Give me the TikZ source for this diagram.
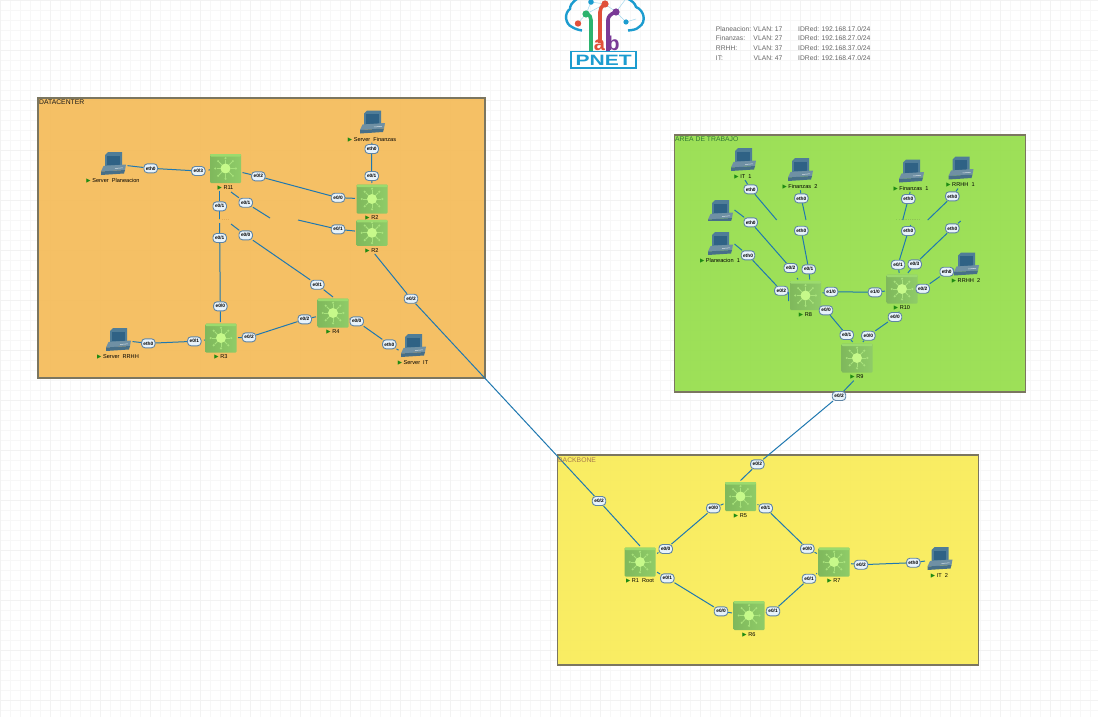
\documentclass[tikz,border=0pt]{standalone}
\usepackage{fontspec}
\setmainfont{Liberation Sans}
\newfontfamily\symfont{DejaVu Sans}
\usepackage{xcolor}
\usetikzlibrary{positioning,backgrounds}
\definecolor{linkblue}{HTML}{1F78B0}
\definecolor{pillfill}{HTML}{E8F3FB}
\definecolor{pillline}{HTML}{5F84A4}
\definecolor{flaggreen}{HTML}{1E8A12}
\definecolor{logoblue}{HTML}{1C9CCF}
\definecolor{logogreen}{HTML}{2CB36E}
\definecolor{logored}{HTML}{E0503A}
\definecolor{logoviolet}{HTML}{7A3A96}
\definecolor{zoneline}{HTML}{7B7660}
\definecolor{routerleft}{HTML}{7FB85C}
\definecolor{routerright}{HTML}{8FCC68}
\definecolor{routertop}{HTML}{9BDB6E}
\definecolor{routersun}{HTML}{C6F98A}
\definecolor{routerray}{HTML}{A8E27C}
\definecolor{pcframe}{HTML}{4F7D98}
\definecolor{pcscreen}{HTML}{2F6285}
\definecolor{pcbase}{HTML}{6F90A4}
\definecolor{pcfoot}{HTML}{476F88}
\newcommand{\flagmark}{{\color{flaggreen}\symfont ▶}}
\newcommand{\hosticon}[1]{%
  \begin{scope}[shift={(#1.north west)}, shift={(1.5,1.5)}]
    \fill[pcframe] (8,0) -- (22,0) -- (22,14) -- (5,15) -- (5,3) -- cycle;
    \fill[pcscreen] (7,3.5) rectangle (19.5,13);
    \fill[pcbase] (3.5,14) -- (26,12.5) -- (25,18) -- (1,19.5) -- cycle;
    \fill[pcfoot] (1,19.5) -- (25,18) -- (24,21.5) -- (1,23) -- cycle;
    \draw[white!70!pcbase, line width=.5pt] (15,16.5) -- (23,15.8);
  \end{scope}}
\tikzset{
  zone/.style={rectangle, draw=zoneline, line width=1.5pt, fill opacity=.93, anchor=north west, inner sep=0, outer sep=0},
  zonetitle/.style={anchor=west, inner sep=0, font=\fontsize{6.8}{7}\selectfont},
  router/.style={rectangle, rounded corners=1pt, minimum width=31pt, minimum height=29pt, inner sep=0, outer sep=1.5pt,
    left color=routerleft, right color=routerright,
    path picture={
      \fill[routertop] (path picture bounding box.north west) rectangle ([yshift=-2.5pt]path picture bounding box.north east);
      \begin{scope}[shift={(path picture bounding box.center)}]
        \foreach \a in {0,45,...,315}{
          \draw[routerray, line width=1pt] (\a:5pt) -- (\a:9pt);
          \fill[routerray] (\a:10.3pt) circle (1.2pt);
        }
        \fill[routersun] (0,0) circle (5pt);
      \end{scope}
    }},
  pc/.style={rectangle, minimum width=26pt, minimum height=24pt, inner sep=0, outer sep=1.5pt},
  tag/.style={inner sep=0, outer sep=1pt, font=\fontsize{5.6}{6}\selectfont},
  port/.style={rectangle, rounded corners=3.5pt, draw=pillline, line width=.9pt, fill=pillfill, minimum width=13.5pt, minimum height=9pt, inner sep=0, font=\fontsize{4.8}{5}\bfseries\selectfont},
  link/.style={draw=linkblue, line width=1pt},
  sliver/.style={inner sep=0, font=\fontsize{4}{4}\selectfont}
}
\begin{document}
\begin{tikzpicture}[x=1pt, y=-1pt, node distance=0pt]
\useasboundingbox (0,0) rectangle (1098,717);

% grid and zones
\begin{scope}[on background layer]
\fill[white] (0,0) rectangle (1098,717);
\draw[black!3, line width=.6pt, step=10pt] (0,0) grid (1098,717);
\draw[black!5, line width=.8pt, step=50pt] (0,0) grid (1098,717);
\node[zone, fill={rgb,255:red,245;green,188;blue,90}, minimum width=447pt, minimum height=280pt] (datacenter) at (38,98) {};
\node[zone, fill={rgb,255:red,150;green,222;blue,76}, minimum width=351pt, minimum height=257pt] (trabajo) at (674.5,135) {};
\node[zone, fill={rgb,255:red,249;green,236;blue,88}, minimum width=421pt, minimum height=210pt] (backbone) at (557.5,455) {};
\end{scope}

\node[zonetitle, text=black!90] (titledc) at (39,102.5) {DATACENTER};
\node[zonetitle, text=green!35!black!80] (titleat) at (675,139.5) {AREA DE TRABAJO};
\node[zonetitle, text=orange!50!black!70] (titlebb) at (558,460.5) {BACKBONE};

% logo
\draw[logoblue, line width=2.4pt] (578.3,-2) .. controls (571,3) and (570,6) .. (570,9) .. controls (564,13) and (565,24) .. (572,27) .. controls (575,29) and (579,30) .. (582,30.5);
\draw[logoblue, line width=2.4pt] (626.7,-2) .. controls (632,1) and (635,3) .. (636,7) .. controls (644,10) and (647,22) .. (639,27) .. controls (636,30) and (632,30) .. (628,30.5);
\draw[logoblue!40, line width=.5pt] (578,23) -- (586,14) -- (591,2) -- (605,4) -- (616,12) -- (626,22) -- (636,19);
\draw[logoblue!40, line width=.5pt] (586,14) -- (605,4) (616,12) -- (625,0);
\draw[logogreen, line width=3.6pt] (586,14) .. controls (590,15) and (591,17) .. (591,20) -- (591,51);
\draw[logored, line width=3.6pt] (605,4) .. controls (601,7) and (600,9) .. (600,12) -- (600,43);
\draw[logoviolet, line width=3.6pt] (616,12) .. controls (610,14) and (608,17) .. (608,20) -- (608,51);
\fill[logogreen] (586,14) circle (3.6pt);
\fill[logored] (605,4) circle (3.6pt);
\fill[logoviolet] (616,12) circle (3.6pt);
\fill[logored] (578,23.5) circle (3.2pt);
\fill[logoblue] (591,2) circle (2.8pt);
\fill[logoblue] (626,22) circle (2.6pt);
\node[rectangle, draw=logoblue, line width=1.5pt, fill=white, minimum width=65pt, minimum height=16.5pt, inner sep=0, text=logoblue, font=\fontsize{15}{15}\bfseries\selectfont] (logopnet) at (603.7,60) {\scalebox{1.4}[1]{PNET}};
\node[anchor=base, inner sep=0, text=logored, font=\fontsize{20}{20}\bfseries\selectfont] (logoa) at (599.5,50.6) {a};
\node[anchor=base, inner sep=0, text=logoviolet, font=\fontsize{20}{20}\bfseries\selectfont] (logob) at (613.6,50.6) {b};

% vlan table
\node[anchor=north west, inner sep=0, text=black!60, font=\fontsize{6.75}{9.8}\selectfont] (vlans) at (715.7,24) {%
\begin{tabular}{@{}p{37.6pt}@{}p{44.7pt}@{}l@{}}
Planeacion: & VLAN: 17 & IDRed: 192.168.17.0/24\\
Finanzas: & VLAN: 27 & IDRed: 192.168.27.0/24\\
RRHH: & VLAN: 37 & IDRed: 192.168.37.0/24\\
IT: & VLAN: 47 & IDRed: 192.168.47.0/24
\end{tabular}};

% routers
\node[router] (r11) at (225.5,168.5) {};
\node[tag, below=of r11] (r11t) {\flagmark\ R11};
\node[router] (r2a) at (372,199) {};
\node[tag, below=of r2a] (r2at) {\flagmark\ R2};
\node[router, minimum height=26pt] (r2b) at (372,232.8) {};
\node[tag, below=of r2b] (r2bt) {\flagmark\ R2};
\node[router] (r3) at (221,338) {};
\node[tag, below=of r3] (r3t) {\flagmark\ R3};
\node[router] (r4) at (333,313) {};
\node[tag, below=of r4] (r4t) {\flagmark\ R4};
\node[router] (r8) at (805.5,295.5) {};
\node[tag, below=of r8] (r8t) {\flagmark\ R8};
\node[router] (r10) at (902,289) {};
\node[tag, below=of r10] (r10t) {\flagmark\ R10};
\node[router] (r9) at (857,358) {};
\node[tag, below=of r9] (r9t) {\flagmark\ R9};
\node[router] (r5) at (740.5,496.5) {};
\node[tag, below=of r5] (r5t) {\flagmark\ R5};
\node[router] (r1) at (640,562) {};
\node[tag, below=of r1] (r1t) {\flagmark\ R1\ \ Root};
\node[router] (r6) at (749,615.5) {};
\node[tag, below=of r6] (r6t) {\flagmark\ R6};
\node[router] (r7) at (834,562) {};
\node[tag, below=of r7] (r7t) {\flagmark\ R7};

% hosts
\node[pc] (srvplan) at (113,164) {}; \hosticon{srvplan}
\node[tag, below=of srvplan] (srvplant) {\flagmark\ Server\ \ Planeacion};
\node[pc] (srvfin) at (372,122.5) {}; \hosticon{srvfin}
\node[tag, below=of srvfin] (srvfint) {\flagmark\ Server\ \ Finanzas};
\node[pc] (srvrrhh) at (118,340) {}; \hosticon{srvrrhh}
\node[tag, below=of srvrrhh] (srvrrhht) {\flagmark\ Server\ \ RRHH};
\node[pc] (srvit) at (413,346) {}; \hosticon{srvit}
\node[tag, below=of srvit] (srvitt) {\flagmark\ Server\ \ IT};
\node[pc] (it1) at (743,160) {}; \hosticon{it1}
\node[tag, below=of it1] (it1t) {\flagmark\ IT\ \ 1};
\node[pc] (fin2) at (800,170) {}; \hosticon{fin2}
\node[tag, below=of fin2] (fin2t) {\flagmark\ Finanzas\ \ 2};
% this one is cut off at the bottom, and has no label
\node[pc, minimum height=20pt] (pcplan) at (720,210) {};
\begin{scope}
\clip (pcplan.north west) rectangle ([yshift=1.5pt]pcplan.south east);
\hosticon{pcplan}
\end{scope}
\node[pc] (plan1) at (720,244) {}; \hosticon{plan1}
\node[tag, below=of plan1] (plan1t) {\flagmark\ Planeacion\ \ 1};
\node[pc] (fin1) at (911,171.5) {}; \hosticon{fin1}
\node[tag, below=of fin1] (fin1t) {\flagmark\ Finanzas\ \ 1};
\node[pc] (rr1) at (960.5,168.5) {}; \hosticon{rr1}
\node[tag, below=of rr1] (rr1t) {\flagmark\ RRHH\ \ 1};
\node[pc] (rr2) at (966,264.5) {}; \hosticon{rr2}
\node[tag, below=of rr2] (rr2t) {\flagmark\ RRHH\ \ 2};
\node[pc] (it2) at (939.5,559) {}; \hosticon{it2}
\node[tag, below=of it2] (it2t) {\flagmark\ IT\ \ 2};

% what is left of two clipped labels
\node[sliver, text=orange!60!black] (sliverdc) at (224,220) {\textcolor{flaggreen}{.}\ \ .\,.\,.\,.};
\node[sliver, text=black!75] (sliverat) at (908,220.2) {\textcolor{flaggreen}{.}\ \ .\,.\,.\,.\,.\,.\,.\,.\,.\,.\,.\,.};

% ports, datacenter
\node[port] (a1) at (150.7,168.3) {eth0};
\node[port] (a2) at (198.3,171) {e0/3};
\node[port] (a3) at (258.3,176.3) {e0/2};
\node[port] (a4) at (338,197.7) {e0/0};
\node[port] (a5) at (219.7,206.3) {e0/1};
\node[port] (a6) at (245.7,202.7) {e0/1};
\node[port] (a7) at (219.7,238) {e0/1};
\node[port] (a8) at (245.7,235.3) {e0/0};
\node[port] (a9) at (371.7,149) {eth0};
\node[port] (a10) at (371.7,176) {e0/1};
\node[port] (a11) at (338,229.3) {e0/1};
\node[port] (a12) at (220.3,306.3) {e0/0};
\node[port] (a13) at (317.3,284.7) {e0/1};
\node[port] (a14) at (148.3,343.3) {eth0};
\node[port] (a15) at (194.3,341.3) {e0/1};
\node[port] (a16) at (249,337.3) {e0/2};
\node[port] (a17) at (304.7,319.3) {e0/2};
\node[port] (a18) at (356.7,321.3) {e0/0};
\node[port] (a19) at (389.3,344.3) {eth0};
\node[port] (a20) at (411,298.7) {e0/2};

% ports, area de trabajo
\node[port] (b1) at (750.7,189.3) {eth0};
\node[port] (b2) at (801.3,198.3) {eth0};
\node[port] (b3) at (750.7,222.3) {eth0};
\node[port] (b4) at (801.3,230.7) {eth0};
\node[port] (b5) at (748,255.3) {eth0};
\node[port] (b6) at (790.7,268) {e0/2};
\node[port] (b7) at (808.7,269.3) {e0/1};
\node[port] (b8) at (781.3,290.7) {e0/2};
\node[port] (b9) at (831,291.7) {e1/0};
\node[port] (b10) at (875,292.3) {e1/0};
\node[port] (b11) at (826,310.3) {e0/0};
\node[port] (b12) at (846.7,335) {e0/1};
\node[port] (b13) at (895,317) {e0/0};
\node[port] (b14) at (868.3,335.7) {e0/0};
\node[port] (b15) at (908.3,199) {eth0};
\node[port] (b16) at (908.3,231) {eth0};
\node[port] (b17) at (898,264.7) {e0/1};
\node[port] (b18) at (952.3,196.3) {eth0};
\node[port] (b19) at (952.3,228.3) {eth0};
\node[port] (b20) at (914.7,264.3) {e0/3};
\node[port] (b21) at (946.7,271.7) {eth0};
\node[port] (b22) at (922.7,288.7) {e0/2};

% ports, backbone
\node[port] (c1) at (599,501) {e0/2};
\node[port] (c2) at (839,396) {e0/2};
\node[port] (c3) at (757.3,464.3) {e0/2};
\node[port] (c4) at (713.3,508.3) {e0/0};
\node[port] (c5) at (665.7,549) {e0/0};
\node[port] (c6) at (667.3,578.3) {e0/1};
\node[port] (c7) at (721,611.3) {e0/0};
\node[port] (c8) at (765.7,508.3) {e0/1};
\node[port] (c9) at (807.3,548.7) {e0/0};
\node[port] (c10) at (773,611.3) {e0/1};
\node[port] (c11) at (809,578.7) {e0/1};
\node[port] (c12) at (861,564.7) {e0/2};
\node[port] (c13) at (913.3,562.7) {eth0};

% free ends, where the links break off
\coordinate (cutdca) at (219.7,219);
\coordinate (cutdcb) at (219.7,223);
\coordinate (cutdcc) at (231,192);
\coordinate (cutdcd) at (270,218);
\coordinate (cutdce) at (298,220);
\coordinate (cutdcf) at (231,224);
\coordinate (cutata) at (776.7,220);
\coordinate (cutatb) at (806,220);
\coordinate (cutatc) at (902.7,220);
\coordinate (cutatd) at (927.7,220);
\coordinate (cutate) at (910.7,225);
\coordinate (cutatf) at (960.7,221);

% links
\begin{scope}[on background layer]
\draw[link, shorten <=15pt] (srvplan) -- (a1) -- (a2) -- (r11);
\draw[link] (r11) -- (a3) -- (a4) -- (r2a);
\draw[link] (r11t.south -| a5) -- (a5) -- (cutdca);
\draw[link] (cutdcb) -- (a7) -- (a12) -- (r3.north -| a12);
\draw[link] (cutdcc) -- (a6) -- (cutdcd);
\draw[link] (cutdce) -- (a11) -- (r2b);
\draw[link] (cutdcf) -- (a8) -- (a13) -- (r4.north);
\draw[link] (srvfint) -- (a9) -- (a10) -- (r2a);
\draw[link, shorten <=8pt] (srvrrhh) -- (a14) -- (a15) -- (r3);
\draw[link] (r3) -- (a16) -- (a17) -- (r4);
\draw[link] (r4) -- (a18) -- (a19) -- (srvit.196);
\draw[link] (r2bt) -- (a20) -- (c1) -- (r1.north);
\draw[link] (it1t) -- (b1) -- (cutata);
\draw[link] (fin2t) -- (b2) -- (cutatb);
\draw[link] (b4) -- (b7) -- (r8.75);
\draw[link, shorten <=6pt] (pcplan.east) -- (b3) -- (b6) -- (r8.115);
\draw[link, shorten <=9pt] (plan1.east) -- (b5) -- (b8) -- (r8);
\draw[link] (r8) -- (b9) -- (b10) -- (r10);
\draw[link] (r8) -- (b11) -- (b12) -- (r9.105);
\draw[link] (r10t) -- (b13) -- (b14) -- (r9.70);
\draw[link] (fin1t) -- (b15) -- (cutatc);
\draw[link] (rr1t) -- (b18) -- (cutatd);
\draw[link] (cutate) -- (b16) -- (b17) -- (r10.100);
\draw[link] (cutatf) -- (b19) -- (b20) -- (r10.70);
\draw[link] (r10) -- (b22) -- (b21) -- (rr2);
\draw[link] (r9t) -- (c2) -- (c3) -- (r5.north);
\draw[link] (r5) -- (c4) -- (c5) -- (r1);
\draw[link] (r1) -- (c6) -- (c7) -- (r6);
\draw[link] (r5) -- (c8) -- (c9) -- (r7);
\draw[link] (r6) -- (c10) -- (c11) -- (r7);
\draw[link] (r7) -- (c12) -- (c13) -- (it2);
\end{scope}
\end{tikzpicture}
\end{document}
